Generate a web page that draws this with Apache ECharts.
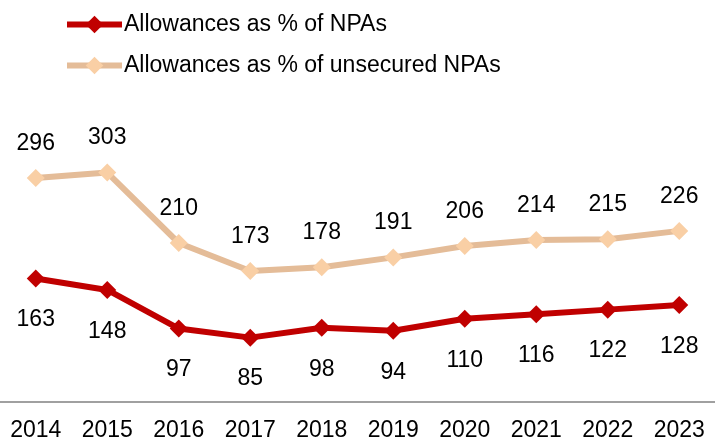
<!DOCTYPE html>
<html>
<head>
<meta charset="utf-8">
<script src="https://cdn.jsdelivr.net/npm/echarts@6/dist/echarts.min.js"></script>
<style>
html,body{margin:0;padding:0;background:#fff;}
#chart{width:715px;height:442px;}
</style>
</head>
<body>
<div id="chart"></div>
<script>
var years = ['2014','2015','2016','2017','2018','2019','2020','2021','2022','2023'];
var allowNPA = [163,148,97,85,98,94,110,116,122,128];
var allowUnsecured = [296,303,210,173,178,191,206,214,215,226];
var seriesNames = ['Allowances as % of NPAs','Allowances as % of unsecured NPAs'];

var FONT = 'Liberation Sans, Arial, Helvetica, sans-serif';
var chart = echarts.init(document.getElementById('chart'), null, {renderer:'canvas'});
chart.setOption({
  animation:false,
  backgroundColor:'#ffffff',
  textStyle:{fontFamily:FONT},
  legend:{
    orient:'vertical',
    left:64, top:13,
    padding:0,
    itemWidth:55, itemHeight:22,
    itemGap:17,
    itemGap:18,
    textStyle:{fontSize:23, color:'#000', fontFamily:FONT, padding:[0,0,0,-3]},
    data:[
      {name:seriesNames[0], lineStyle:{width:6, color:'#C00000'}},
      {name:seriesNames[1], lineStyle:{width:6, color:'#E4BC98'}}
    ]
  },
  grid:{left:-3, right:-7, top:137, bottom:40, containLabel:false},
  xAxis:{
    type:'category',
    data:years,
    boundaryGap:true,
    axisLine:{show:true, lineStyle:{color:'#a0a0a0', width:2}},
    axisTick:{show:false},
    axisLabel:{fontSize:23, color:'#000', margin:17, fontFamily:FONT, interval:0},
    splitLine:{show:false}
  },
  yAxis:{
    type:'value', min:0, max:350,
    show:false,
    splitLine:{show:false}
  },
  series:[
    {
      name:seriesNames[0],
      type:'line',
      data:allowNPA,
      symbol:'diamond',
      symbolSize:18,
      z:3,
      lineStyle:{color:'#C00000', width:6},
      itemStyle:{color:'#C00000'},
      label:{show:true, position:'bottom', distance:21, fontSize:23, color:'#000', fontFamily:FONT}
    },
    {
      name:seriesNames[1],
      type:'line',
      data:allowUnsecured,
      symbol:'diamond',
      symbolSize:18,
      z:2,
      lineStyle:{color:'#E4BC98', width:6},
      itemStyle:{color:'#F9CFA5'},
      label:{show:true, position:'top', distance:14, fontSize:23, color:'#000', fontFamily:FONT}
    }
  ]
});
</script>
</body>
</html>
